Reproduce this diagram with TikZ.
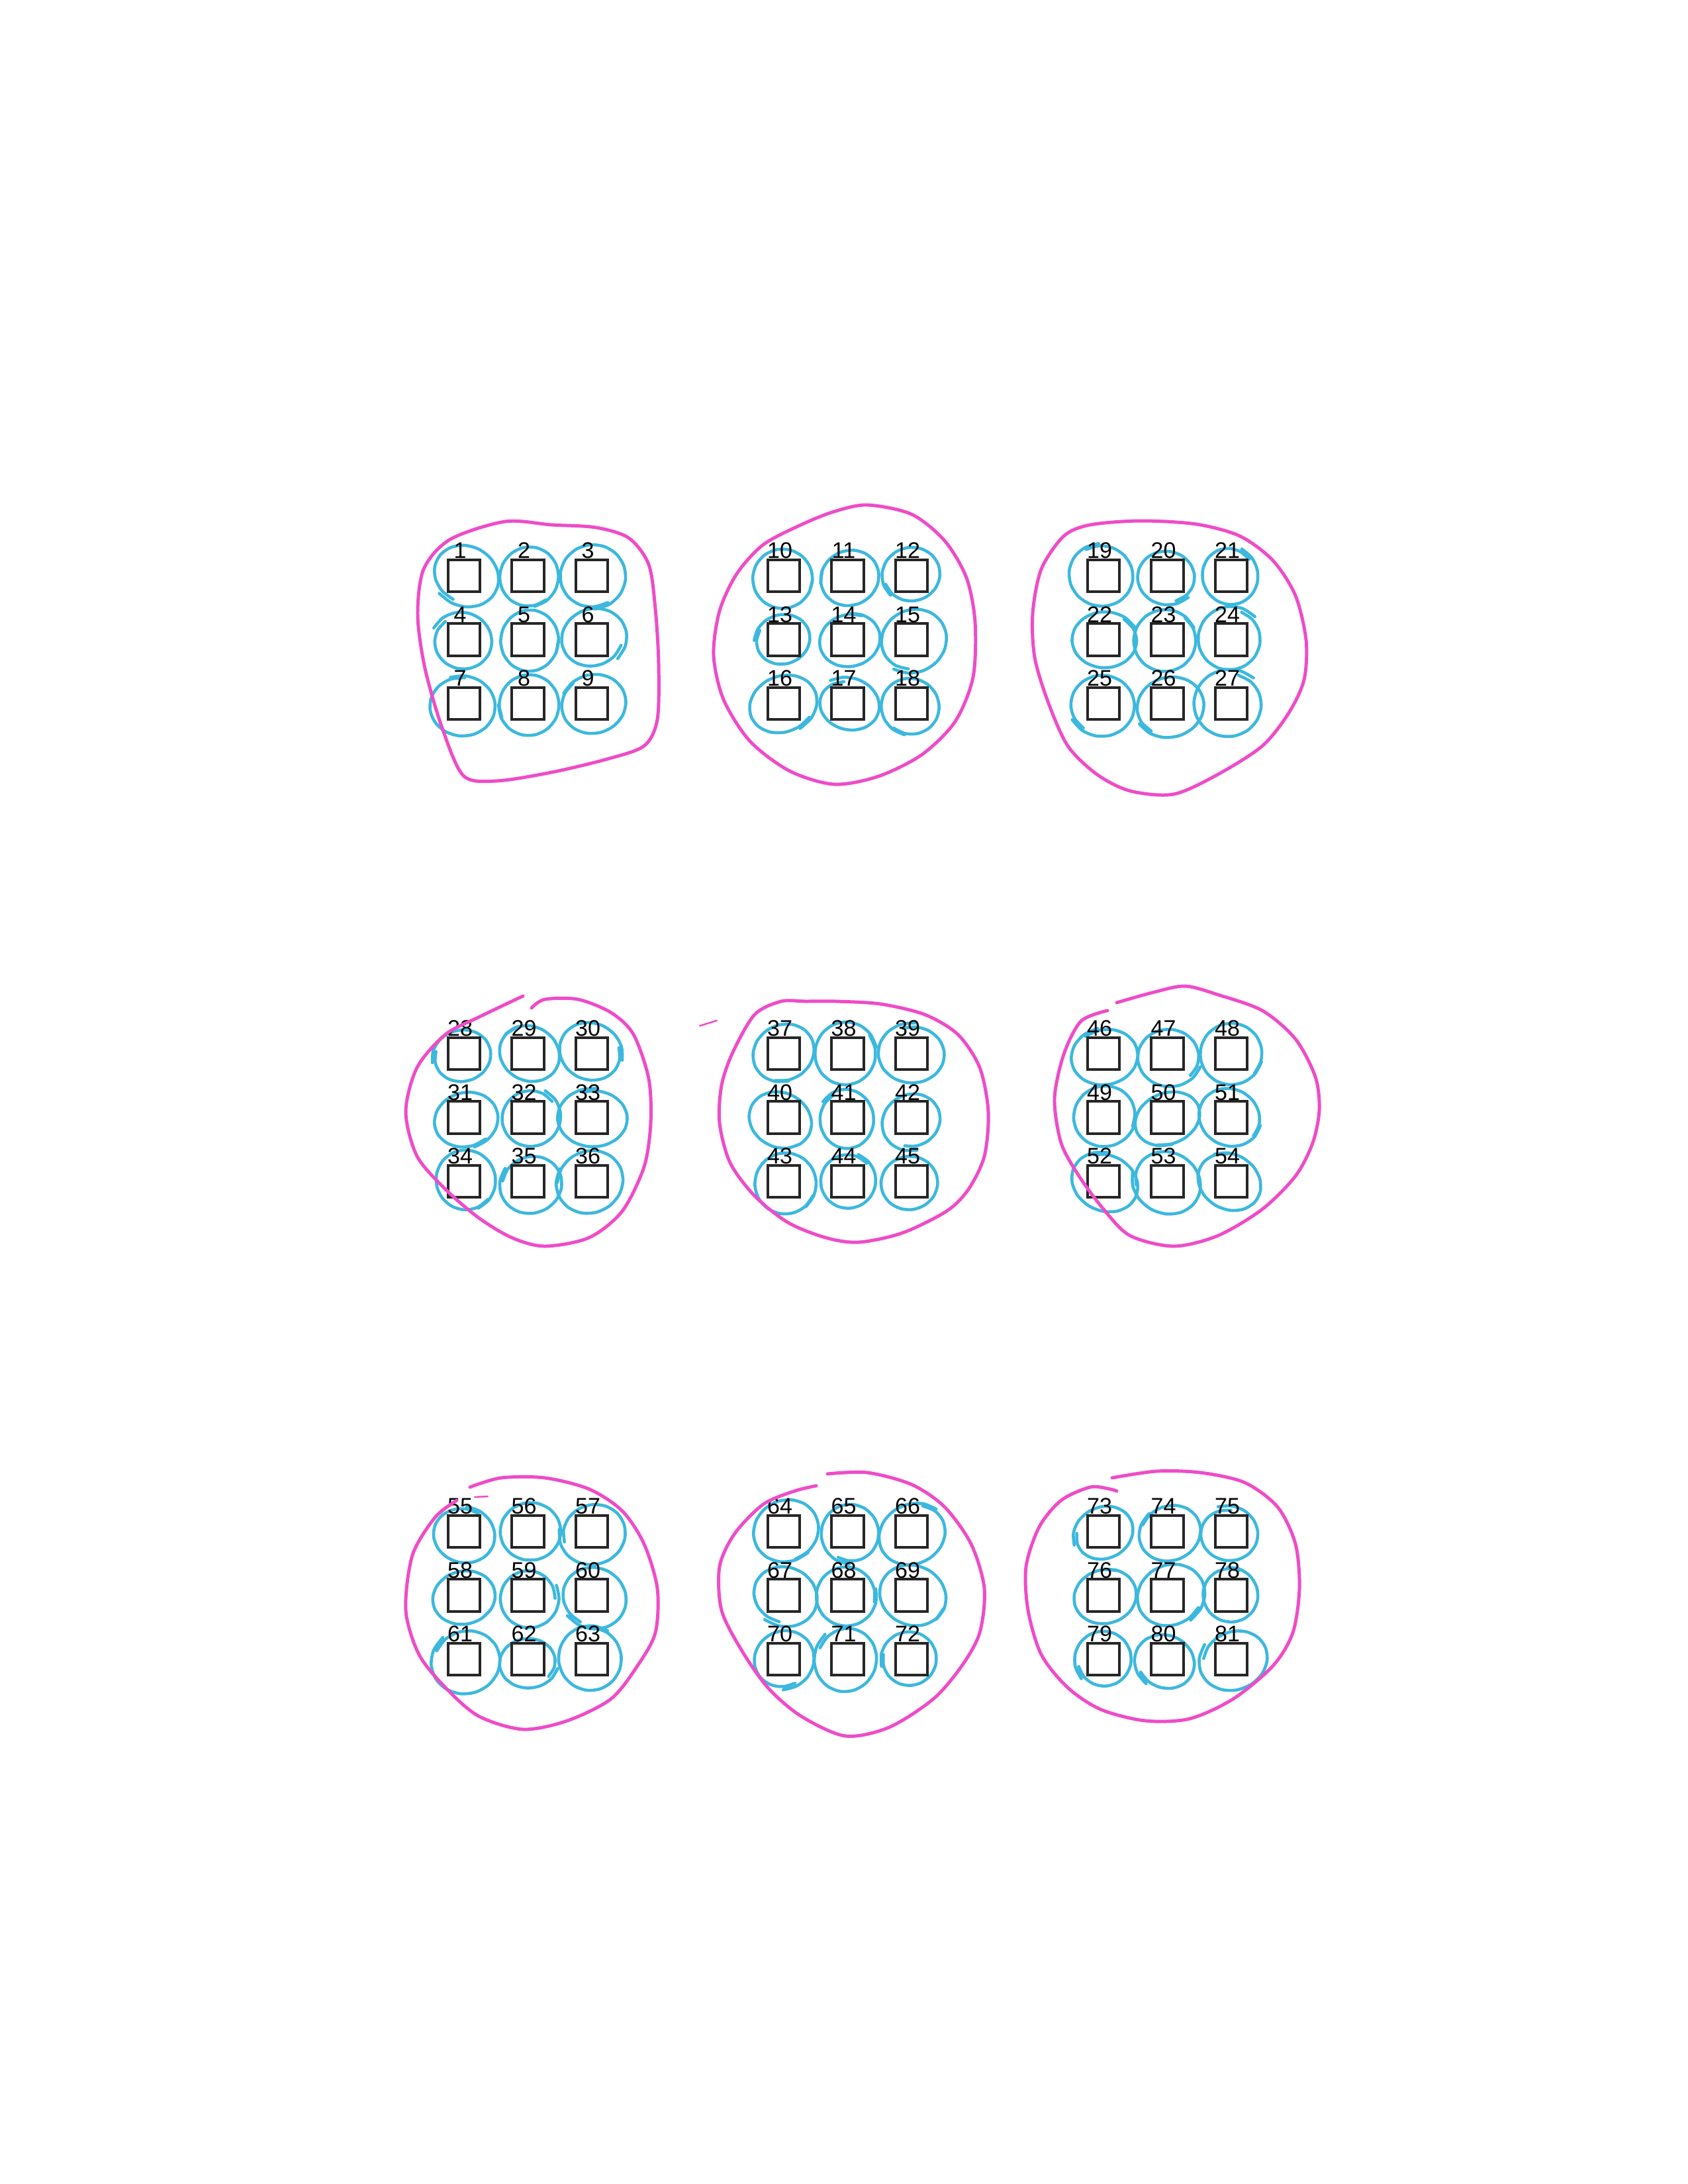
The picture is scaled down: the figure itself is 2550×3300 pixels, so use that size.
\documentclass[tikz,border=0pt]{standalone}
\usepackage{fontspec}
\setmainfont{Liberation Sans}
\usetikzlibrary{positioning,backgrounds}
\definecolor{ringblue}{RGB}{60,184,222}
\definecolor{hullpink}{RGB}{238,76,200}

\begin{document}
\begin{tikzpicture}[x=0.0846667mm, y=-0.0846667mm,
    cell/.style={draw=black!85, line width=1pt, minimum size=4.1mm, inner sep=0pt},
    num/.style={font=\fontsize{8.2}{9}\selectfont, inner sep=0pt, anchor=base, xshift=-0.5mm},
    ring/.style={draw=ringblue, line width=1.1pt, line cap=round, line join=round},
    hull/.style={draw=hullpink, line width=1.2pt, line cap=round, line join=round}
]
\useasboundingbox (0,0) rectangle (2550,3300);
\pgfmathsetseed{1234}
\foreach \gi in {0,1,2}
  \foreach \gj in {0,1,2}
    \foreach \ri in {0,1,2}
      \foreach \ci in {0,1,2} {
        \pgfmathtruncatemacro\n{27*\gi+9*\gj+3*\ri+\ci+1}
        \pgfmathsetmacro\px{701+483*\gj+96.5*\ci}
        \pgfmathsetmacro\py{870+722*\gi+96.5*\ri}
        \node[cell] (sq\n) at (\px,\py) {};
        \node[num] (lab\n) at (sq\n.north) {\n};
        \pgfmathsetmacro\rx{47+4*rand}
        \pgfmathsetmacro\ry{43+4*rand}
        \pgfmathsetmacro\dx{4*rand}
        \pgfmathsetmacro\dy{2+4*rand}
        \pgfmathsetmacro\gw{8*rand}
        \pgfmathsetmacro\a{360*rnd}
        \pgfmathsetmacro\rot{30*rand}
        \begin{pgfonlayer}{background}
          \draw[ring, shift={(sq\n.center)}, rotate=\rot] plot[smooth, domain=\a:\a+385, samples=16, variable=\t]
            ({(\rx+\gw*(\t-\a)/385)*cos(\t)+\dx}, {(\ry+\gw*(\t-\a)/385)*sin(\t)+\dy});
        \end{pgfonlayer}
      }

\draw[hull] plot[smooth cycle] coordinates {(763,788) (833,793) (900,797) (950,813) (980,853) (990,920) (995,1003) (993,1087) (973,1127) (917,1147) (833,1167) (750,1180) (700,1172) (668,1100) (642,1010) (631,930) (640,860) (680,815)};
\draw[hull] plot[smooth cycle] coordinates {(1310,763) (1377,777) (1427,817) (1460,873) (1473,940) (1470,1023) (1443,1090) (1393,1140) (1327,1173) (1260,1185) (1193,1165) (1133,1120) (1093,1057) (1078,990) (1087,923) (1113,867) (1153,823) (1210,793) (1260,773)};
\draw[hull] plot[smooth cycle] coordinates {(1647,793) (1723,787) (1807,792) (1873,810) (1923,847) (1957,900) (1973,967) (1970,1027) (1947,1077) (1907,1127) (1840,1170) (1773,1200) (1707,1195) (1657,1170) (1613,1127) (1583,1060) (1563,993) (1560,927) (1573,860) (1607,810)};

\draw[hull] plot[smooth] coordinates {(803,1523) (823,1510) (873,1510) (923,1530) (957,1563) (980,1630) (983,1697) (973,1763) (940,1830) (890,1870) (823,1883) (773,1870) (723,1840) (673,1797) (630,1747) (613,1680) (630,1613) (673,1563) (723,1537) (790,1505)};
\draw[hull] plot[smooth cycle] coordinates {(1140,1533) (1180,1513) (1217,1513) (1263,1513) (1330,1517) (1397,1533) (1447,1563) (1480,1613) (1493,1680) (1487,1747) (1463,1797) (1430,1830) (1363,1863) (1297,1877) (1247,1870) (1190,1847) (1140,1807) (1103,1757) (1087,1697) (1090,1640) (1107,1590)};
\draw[hull, line width=0.6pt] (1057,1550) -- (1083,1542);
\draw[hull] plot[smooth] coordinates {(1687,1515) (1740,1500) (1790,1490) (1840,1503) (1907,1527) (1957,1570) (1987,1627) (1993,1677) (1983,1727) (1957,1777) (1907,1827) (1840,1867) (1773,1883) (1707,1867) (1667,1827) (1630,1777) (1603,1727) (1593,1660) (1607,1593) (1633,1543) (1673,1527)};

\draw[hull] plot[smooth] coordinates {(710,2247) (757,2233) (823,2233) (890,2250) (940,2283) (973,2333) (993,2400) (990,2467) (963,2517) (923,2567) (857,2600) (790,2613) (723,2593) (673,2550) (633,2500) (613,2433) (623,2350) (657,2293) (690,2267)};
\draw[hull, line width=0.6pt] (717,2262) -- (737,2261);
\draw[hull] plot[smooth] coordinates {(1250,2227) (1310,2225) (1377,2243) (1427,2277) (1467,2333) (1487,2400) (1480,2467) (1453,2517) (1410,2567) (1343,2610) (1277,2623) (1210,2593) (1160,2550) (1120,2493) (1090,2433) (1087,2367) (1110,2317) (1153,2273) (1200,2253) (1233,2245)};
\draw[hull] plot[smooth] coordinates {(1680,2233) (1747,2223) (1813,2225) (1880,2240) (1930,2277) (1957,2333) (1963,2400) (1953,2467) (1923,2517) (1863,2567) (1797,2597) (1730,2600) (1663,2583) (1613,2550) (1573,2500) (1553,2433) (1550,2367) (1570,2307) (1603,2267) (1647,2247) (1677,2250) (1687,2253)};
\end{tikzpicture}
\end{document}
